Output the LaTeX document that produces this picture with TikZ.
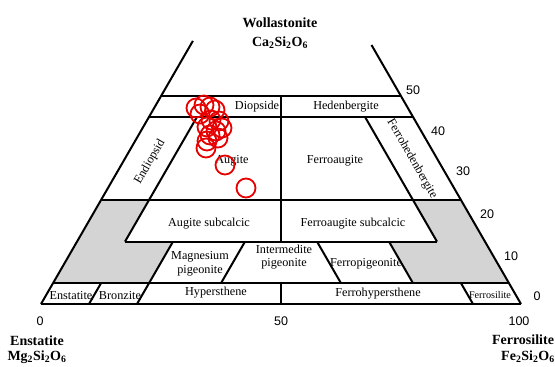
\documentclass[tikz,border=0pt]{standalone}
\usepackage{fontspec}
\setmainfont{Liberation Serif}
\newfontfamily\numfont{Liberation Sans}
\definecolor{grayfill}{RGB}{212,212,212}
\definecolor{ptred}{RGB}{230,0,0}
\begin{document}
\begin{tikzpicture}[x=1pt,y=-1pt,
  edge/.style={line width=2pt, line cap=butt},
  region/.style={inner sep=0pt, align=center, font=\fontsize{12.2}{13.5}\selectfont},
  smallregion/.style={inner sep=0pt, font=\fontsize{10.2}{11}\selectfont},
  tick/.style={inner sep=0pt, font=\numfont\fontsize{12.5}{13}\selectfont},
  title/.style={inner sep=0pt, font=\bfseries\fontsize{14}{15}\selectfont},
  sample/.style={draw=ptred, line width=1.8pt},
  shade/.style={fill=grayfill, draw=none}]
\useasboundingbox (0,0) rectangle (555,367);

% ---- key points (Fs, Wo) mapped to pixels ----
\coordinate (O0) at (41,304);      % En corner
\coordinate (F0) at (521,304);     % Fs corner
\coordinate (Ltop) at (192.9,40.9);
\coordinate (Rtop) at (371.5,45);
\coordinate (L50) at (161,96.2);   \coordinate (R50) at (401,96.2);
\coordinate (L45) at (149,116.9);  \coordinate (R45) at (413,116.9);
\coordinate (L25) at (101,200.1);  \coordinate (R25) at (461,200.1);
\coordinate (L5)  at (53,283.2);   \coordinate (R5)  at (509,283.2);
\coordinate (A45) at (197,116.9);  \coordinate (A25) at (149,200.1);  \coordinate (A15) at (125,241.6);
\coordinate (B45) at (365,116.9);  \coordinate (B25) at (413,200.1);  \coordinate (B15) at (437,241.6);
\coordinate (C50) at (281,96.2);   \coordinate (C15) at (281,241.6);
\coordinate (C5)  at (281,283.2);  \coordinate (C0)  at (281,304);
\coordinate (P20a) at (173,241.6); \coordinate (P20b) at (149,283.2);
\coordinate (P35a) at (245,241.6); \coordinate (P35b) at (221,283.2);
\coordinate (Q35a) at (317,241.6); \coordinate (Q35b) at (341,283.2);
\coordinate (Q20a) at (389,241.6); \coordinate (Q20b) at (413,283.2);
\coordinate (E10a) at (101,283.2); \coordinate (E10b) at (89,304);
\coordinate (E20b) at (137,304);
\coordinate (S10a) at (461,283.2); \coordinate (S10b) at (473,304);

% ---- gray areas ----
\fill[shade] (L25) -- (A25) -- (A15) -- (P20a) -- (P20b) -- (L5) -- cycle;
\fill[shade] (R25) -- (B25) -- (B15) -- (Q20a) -- (Q20b) -- (R5) -- cycle;

% ---- frame ----
\draw[edge] (O0) -- (Ltop);
\draw[edge] (F0) -- (Rtop);
\draw[edge, line width=2.3pt] (O0) -- (F0);
\draw[edge] (L50) -- (R50);
\draw[edge] (L45) -- (R45);
\draw[edge] (L25) -- (R25);
\draw[edge] (A15) -- (B15);
\draw[edge] (L5) -- (R5);
\draw[edge] (C50) -- (C15);
\draw[edge] (C5) -- (C0);
\draw[edge] (A45) -- (A15);
\draw[edge] (B45) -- (B15);
\draw[edge] (P20a) -- (P20b);
\draw[edge] (P35a) -- (P35b);
\draw[edge] (Q35a) -- (Q35b);
\draw[edge] (Q20a) -- (Q20b);
\draw[edge] (E10a) -- (E10b);
\draw[edge] (P20b) -- (E20b);
\draw[edge] (S10a) -- (S10b);

% ---- region labels ----
\node[region] (diop) at (257,107) {Diopside};
\node[region] (hed) at (346,107) {Hedenbergite};
\node[region, rotate=60] (endi) at (150,162) {Endiopsid};
\node[region] (aug) at (232,161) {Augite};
\node[region] (faug) at (335,161) {Ferroaugite};
\node[region, rotate=-60] (fhed) at (412,159) {Ferrohedenbergite};
\node[region] (asub) at (209,224) {Augite subcalcic};
\node[region] (fasub) at (353,224) {Ferroaugite subcalcic};
\node[region] (mgp) at (200,264) {Magnesium\\pigeonite};
\node[region] (intp) at (284,257) {Intermedite\\pigeonite};
\node[region] (fep) at (366,264) {Ferropigeonite};
\node[region] (ens) at (71,296) {Enstatite};
\node[region] (bro) at (120,296) {Bronzite};
\node[region] (hyp) at (216,293) {Hypersthene};
\node[region] (fhyp) at (378,294) {Ferrohypersthene};
\node[smallregion] (fsil) at (490,295) {Ferrosilite};

% ---- scale numbers ----
\node[tick] (w50) at (413,90) {50};
\node[tick] (w40) at (438,131) {40};
\node[tick] (w30) at (463,171) {30};
\node[tick] (w20) at (487,214) {20};
\node[tick] (w10) at (511,256) {10};
\node[tick] (w0) at (537,296) {0};
\node[tick] (f0) at (40,321) {0};
\node[tick] (f50) at (281,321) {50};
\node[tick] (f100) at (519,321) {100};

% ---- end members ----
\node[title] (wo) at (280,23) {Wollastonite};
\node[title] (woF) at (280,43) {Ca\textsubscript{2}Si\textsubscript{2}O\textsubscript{6}};
\node[title] (en) at (37,341) {Enstatite};
\node[title] (enF) at (37,357) {Mg\textsubscript{2}Si\textsubscript{2}O\textsubscript{6}};
\node[title] (fs) at (523,340) {Ferrosilite};
\node[title] (fsF) at (528,357) {Fe\textsubscript{2}Si\textsubscript{2}O\textsubscript{6}};

% ---- samples ----
\foreach \p in {(196,108),(204,105),(210,107),(215,110),(200,114),(219,121),
  (211,120),(222,128),(207,127),(216,131),(210,135),(218,138),(207,141),
  (206,148),(225,165),(246,188)}
  \draw[sample] \p circle[radius=9.5pt];
\end{tikzpicture}
\end{document}
